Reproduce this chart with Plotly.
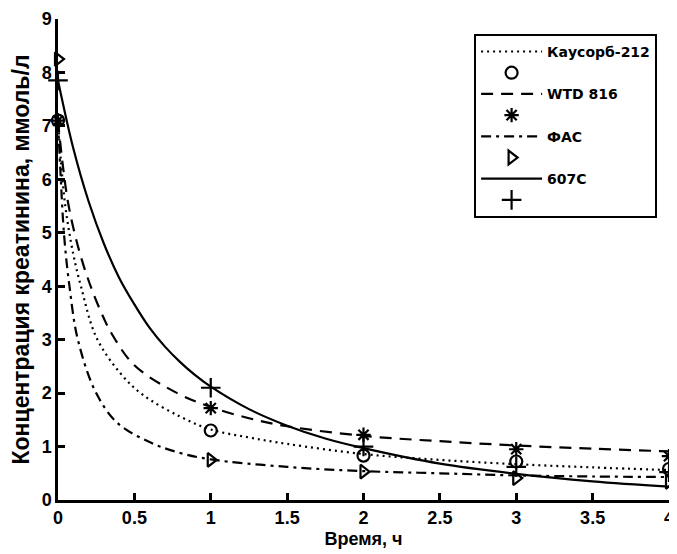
import plotly.graph_objects as go

# Measured sample times and point values
t_points = [0, 1, 2, 3, 4]
kaucorb_pts = [7.1, 1.3, 0.83, 0.72, 0.58]
wtd_pts = [7.1, 1.72, 1.22, 0.95, 0.82]
fas_pts = [8.25, 0.75, 0.53, 0.41, 0.34]
c607_pts = [7.85, 2.1, 1.0, 0.62, 0.52]

# Fitted curves
kaucorb_t = [0, 0.02, 0.05, 0.1, 0.15, 0.25, 0.4, 0.55, 0.8, 1, 1.25, 1.5, 2, 2.5, 3, 3.5, 4]
kaucorb_y = [7.1, 6.3, 5.45, 4.6, 4.0, 3.05, 2.4, 1.98, 1.56, 1.32, 1.17, 1.05, 0.86, 0.75, 0.67, 0.61, 0.56]

wtd_t = [0, 0.03, 0.07, 0.14, 0.22, 0.3, 0.35, 0.5, 0.78, 1, 1.25, 1.5, 2, 2.5, 3, 3.5, 4]
wtd_y = [7.1, 6.3, 5.5, 4.65, 3.95, 3.4, 3.12, 2.52, 2.0, 1.74, 1.53, 1.38, 1.2, 1.1, 1.02, 0.96, 0.91]

fas_t = [0, 0.015, 0.04, 0.075, 0.13, 0.25, 0.39, 0.61, 0.8, 1, 1.5, 2, 2.5, 3, 3.5, 4]
fas_y = [7.1, 6.2, 4.95, 4.0, 3.0, 2.0, 1.44, 1.07, 0.88, 0.76, 0.62, 0.54, 0.5, 0.46, 0.44, 0.43]

c607_t = [0, 0.1, 0.2, 0.3, 0.4, 0.5, 0.6, 0.7, 0.8, 0.9, 1, 1.25, 1.5, 1.75, 2, 2.5, 3, 3.5, 4]
c607_y = [7.85, 6.58, 5.59, 4.8, 4.16, 3.66, 3.22, 2.87, 2.58, 2.33, 2.12, 1.7, 1.39, 1.15, 0.97, 0.68, 0.49, 0.35, 0.25]

names = ["Каусорб-212", "WTD 816", "ФАС", "607С"]
x_ticks = [0, 0.5, 1, 1.5, 2, 2.5, 3, 3.5, 4]
x_tick_text = ["0", "0.5", "1", "1.5", "2", "2.5", "3", "3.5", "4"]
y_ticks = list(range(0, 10))

FONT = "Liberation Sans, Arial, sans-serif"
LEG_FONT = "DejaVu Sans, Liberation Sans, sans-serif"

fig = go.Figure()

series = [
    (names[0], kaucorb_t, kaucorb_y, "2px,4px", kaucorb_pts, "circle-open", 12),
    (names[1], wtd_t, wtd_y, "12px,8px", wtd_pts, "asterisk-open", 12),
    (names[2], fas_t, fas_y, "10px,5px,3px,5px", fas_pts, "triangle-right-open", 12),
    (names[3], c607_t, c607_y, "solid", c607_pts, "cross-thin-open", 14),
]

for i, (name, tx, ty, dash, pts, sym, size) in enumerate(series):
    fig.add_trace(go.Scatter(
        x=tx, y=ty, mode="lines", name=name, line_shape="spline",
        line=dict(color="black", width=2.2, dash=dash, smoothing=1.0),
    ))
    fig.add_trace(go.Scatter(
        x=t_points, y=pts, mode="markers", name=" ", cliponaxis=False,
        marker=dict(symbol=sym, size=size, color="black",
                    line=dict(color="black", width=2.2)),
    ))

# The page body adds an 8px offset, so the figure is sized to fit the window
fig.update_layout(
    width=669, height=546,
    margin=dict(l=50, r=8, t=11, b=54),
    paper_bgcolor="white", plot_bgcolor="white",
    font=dict(family=FONT, size=18, color="black", weight="bold"),
    showlegend=True,
    legend=dict(
        x=0.681, y=0.969, xanchor="left", yanchor="top",
        bordercolor="black", borderwidth=2, bgcolor="white",
        font=dict(family=LEG_FONT, size=14, color="black", weight="bold"),
        traceorder="normal", tracegroupgap=0, itemwidth=61,
    ),
    xaxis=dict(
        range=[0, 4], tickvals=x_ticks, ticktext=x_tick_text, automargin=False,
        showline=True, linecolor="black", linewidth=2.5, mirror=False,
        ticks="inside", ticklen=7, tickwidth=2.5, tickcolor="black",
        showgrid=False, zeroline=False,
        title=dict(text="Время, ч", font=dict(family=FONT, size=18, weight="bold"), standoff=6),
    ),
    yaxis=dict(
        range=[0, 9], tickvals=y_ticks, automargin=False,
        showline=True, linecolor="black", linewidth=2.5, mirror=False,
        ticks="inside", ticklen=7, tickwidth=2.5, tickcolor="black",
        showgrid=False, zeroline=False,
        title=dict(text="Концентрация креатинина, ммоль/л", font=dict(family=FONT, size=23, weight="bold"), standoff=13),
    ),
)

fig.write_html("out.html")
